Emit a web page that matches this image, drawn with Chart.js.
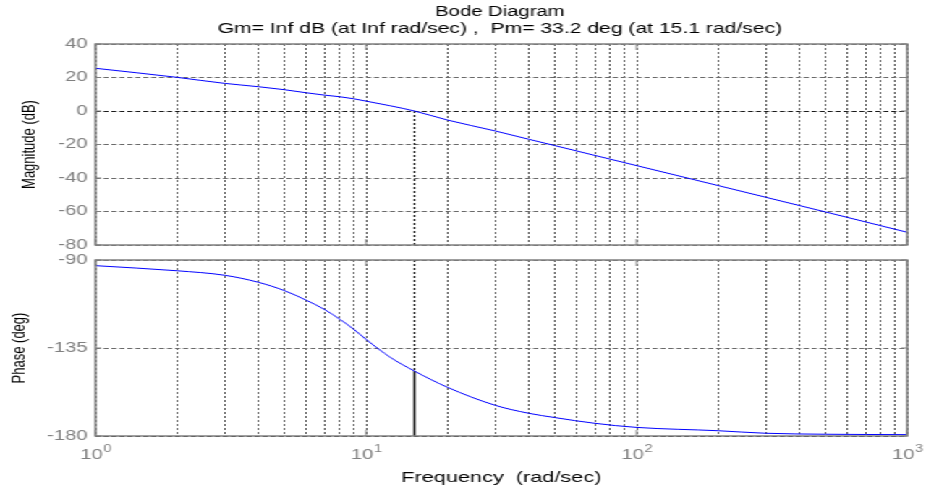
<!DOCTYPE html>
<html lang="en">
<head>
    <meta charset="UTF-8">
    <title>Bode Diagram</title>
    <script src="https://cdn.jsdelivr.net/npm/chart.js"></script>
    <style>
        body { margin: 0; padding: 0; background: #fff; width: 926px; height: 493px; overflow: hidden; }
        /* the original figure is a stretched matlab window, so draw narrow and stretch */
        #stage { position: absolute; left: 0; top: 0; width: 640px; height: 493px; transform: scaleX(1.446875); transform-origin: 0 0; }
        #magChart { position: absolute; left: 0; top: 0; }
        #phaseChart { position: absolute; left: 0; top: 244px; }
    </style>
</head>
<body>
    <div id="stage">
        <canvas id="magChart" width="640" height="256"></canvas>
        <canvas id="phaseChart" width="640" height="249"></canvas>
    </div>

    <script>
        // values
        const freq = [1, 2, 3, 4, 5, 6, 7, 8, 9, 10, 12.3, 15.1, 20, 30, 40, 50, 70, 100, 200, 300, 500, 1000];
        const magnitudeDb = [25.5, 20.1, 16.5, 14.5, 12.7, 10.9, 9.5, 8.5, 7.3, 5.9, 3.1, 0, -5.4, -11.9, -16.9, -20.7, -26.5, -32.6, -44.5, -51.5, -60.3, -72.4];
        const phaseDeg = [-92.9, -95.5, -97.8, -101.4, -105.7, -110.5, -115.2, -120.3, -125.4, -130.6, -139.8, -146.8, -155.1, -164.3, -168.4, -170.6, -173.5, -175.6, -177.3, -178.6, -179.1, -179.3];

        const crossFreq = 15.1;
        const crossPhase = -146.8;

        const magTicks = [-80, -60, -40, -20, 0, 20, 40];
        const phaseTicks = [-180, -135, -90];
        const gridFreqs = [1, 2, 3, 4, 5, 6, 7, 8, 9, 10, 20, 30, 40, 50, 60, 70, 80, 90, 100, 200, 300, 400, 500, 600, 700, 800, 900, 1000];
        const decadeTicks = [1, 10, 100, 1000];
        const decadeExponents = ['0', '1', '2', '3'];

        const titleLines = ['Bode Diagram', 'Gm= Inf dB (at Inf rad/sec) ,  Pm= 33.2 deg (at 15.1 rad/sec)'];
        const magLabel = 'Magnitude (dB)';
        const phaseLabel = 'Phase (deg)';
        const freqLabel = 'Frequency  (rad/sec)';

        const fontFam = "Arial, 'Liberation Sans', Helvetica, sans-serif";
        const tickGray = '#808080';
        const vGridGray = '#555555';
        const hGridGray = '#6a6a6a';
        Chart.defaults.font.family = fontFam;

        function points(ys) {
            return freq.map((f, i) => ({ x: f, y: ys[i] }));
        }

        // box round the axes + matlab style inner tick marks
        const bodeFrame = {
            id: 'bodeFrame',
            afterDraw(chart) {
                const { ctx, chartArea: a, scales } = chart;
                ctx.save();
                ctx.setLineDash([]);
                ctx.strokeStyle = '#808080';
                ctx.lineWidth = 1.5;
                ctx.strokeRect(a.left, a.top, a.right - a.left, a.bottom - a.top);
                ctx.lineWidth = 1;
                ctx.beginPath();
                scales.y.ticks.forEach(t => {
                    const py = scales.y.getPixelForValue(t.value);
                    ctx.moveTo(a.left, py); ctx.lineTo(a.left + 4, py);
                    ctx.moveTo(a.right, py); ctx.lineTo(a.right - 4, py);
                });
                decadeTicks.forEach(v => {
                    const px = scales.x.getPixelForValue(v);
                    ctx.moveTo(px, a.top); ctx.lineTo(px, a.top + 6);
                    ctx.moveTo(px, a.bottom); ctx.lineTo(px, a.bottom - 6);
                });
                ctx.stroke();
                ctx.restore();
            }
        };

        // title lines above the magnitude plot
        const bodeTitle = {
            id: 'bodeTitle',
            afterDraw(chart) {
                const { ctx, chartArea: a } = chart;
                ctx.save();
                ctx.fillStyle = '#000';
                ctx.textAlign = 'center';
                ctx.textBaseline = 'middle';
                const cx = (a.left + a.right) / 2 - 1;
                ctx.font = '14px ' + fontFam;
                ctx.fillText(titleLines[0], cx, 12);
                ctx.font = '14.6px ' + fontFam;
                ctx.fillText(titleLines[1], cx, 29);
                ctx.restore();
            }
        };

        // 10^n labels under the phase plot
        const decadeLabels = {
            id: 'decadeLabels',
            afterDraw(chart) {
                const ctx = chart.ctx, xs = chart.scales.x;
                ctx.save();
                ctx.fillStyle = tickGray;
                ctx.textBaseline = 'middle';
                ctx.textAlign = 'left';
                decadeTicks.forEach((v, i) => {
                    ctx.font = '14px ' + fontFam;
                    const baseW = ctx.measureText('10').width;
                    ctx.font = '10px ' + fontFam;
                    const expW = ctx.measureText(decadeExponents[i]).width;
                    const x0 = xs.getPixelForValue(v) - (baseW + expW) / 2;
                    ctx.font = '14px ' + fontFam;
                    ctx.fillText('10', x0, xs.top + 19.5);
                    ctx.font = '10px ' + fontFam;
                    ctx.fillText(decadeExponents[i], x0 + baseW + 0.5, xs.top + 13);
                });
                ctx.restore();
            }
        };

        function xScale(height) {
            return {
                type: 'logarithmic',
                min: 1,
                max: 1000,
                ticks: { display: false },
                grid: { color: vGridGray, lineWidth: 1, drawTicks: false },
                border: { display: false, dash: [2, 2] },
                afterBuildTicks: s => { s.ticks = gridFreqs.map(v => ({ value: v })); },
                afterFit: s => { s.height = height; s.paddingLeft = 0; s.paddingRight = 0; }
            };
        }

        function yScale(min, max, ticks, refValue, label, titlePad) {
            return {
                min: min,
                max: max,
                afterBuildTicks: s => { s.ticks = ticks.map(v => ({ value: v })); },
                afterFit: s => { s.width = 66; s.paddingTop = 0; s.paddingBottom = 0; },
                ticks: { color: tickGray, font: { size: 14 }, padding: 5.5 },
                grid: {
                    color: c => (c.tick && c.tick.value === refValue) ? '#1a1a1a' : hGridGray,
                    lineWidth: 1,
                    drawTicks: false
                },
                border: { display: false, dash: [3.5, 2] },
                title: { display: true, text: label, color: '#000', font: { size: 13 }, padding: { top: titlePad, bottom: 0 } }
            };
        }

        const common = {
            responsive: false,
            animation: false,
            events: [],
            plugins: { legend: { display: false }, tooltip: { enabled: false } }
        };

        new Chart(document.getElementById('magChart'), {
            type: 'line',
            data: {
                datasets: [
                    { data: points(magnitudeDb), borderColor: '#0000ff', borderWidth: 1, pointRadius: 0, cubicInterpolationMode: 'monotone' },
                    { data: [{ x: crossFreq, y: 0 }, { x: crossFreq, y: -80 }], borderColor: '#000', borderWidth: 1.2, borderDash: [2, 2], pointRadius: 0 }
                ]
            },
            options: Object.assign({}, common, {
                layout: { padding: { left: 0, right: 13, top: 44, bottom: 11 } },
                scales: {
                    x: xScale(0),
                    y: yScale(-80, 40, magTicks, 0, magLabel, 12.9)
                }
            }),
            plugins: [bodeFrame, bodeTitle]
        });

        new Chart(document.getElementById('phaseChart'), {
            type: 'line',
            data: {
                datasets: [
                    { data: points(phaseDeg), borderColor: '#0000ff', borderWidth: 1, pointRadius: 0, cubicInterpolationMode: 'monotone' },
                    { data: [{ x: crossFreq, y: -90 }, { x: crossFreq, y: crossPhase }], borderColor: '#000', borderWidth: 1.2, borderDash: [2, 2], pointRadius: 0 },
                    { data: [{ x: crossFreq, y: crossPhase }, { x: crossFreq, y: -180 }], borderColor: '#000', borderWidth: 1.5, pointRadius: 0 }
                ]
            },
            options: Object.assign({}, common, {
                layout: { padding: { left: 0, right: 13, top: 16, bottom: 0 } },
                scales: {
                    x: Object.assign(xScale(57), {
                        title: { display: true, text: freqLabel, color: '#000', font: { size: 15 }, padding: { top: 0, bottom: 6 } }
                    }),
                    y: yScale(-180, -90, phaseTicks, -180, phaseLabel, 5.7)
                }
            }),
            plugins: [bodeFrame, decadeLabels]
        });
    </script>
</body>
</html>
